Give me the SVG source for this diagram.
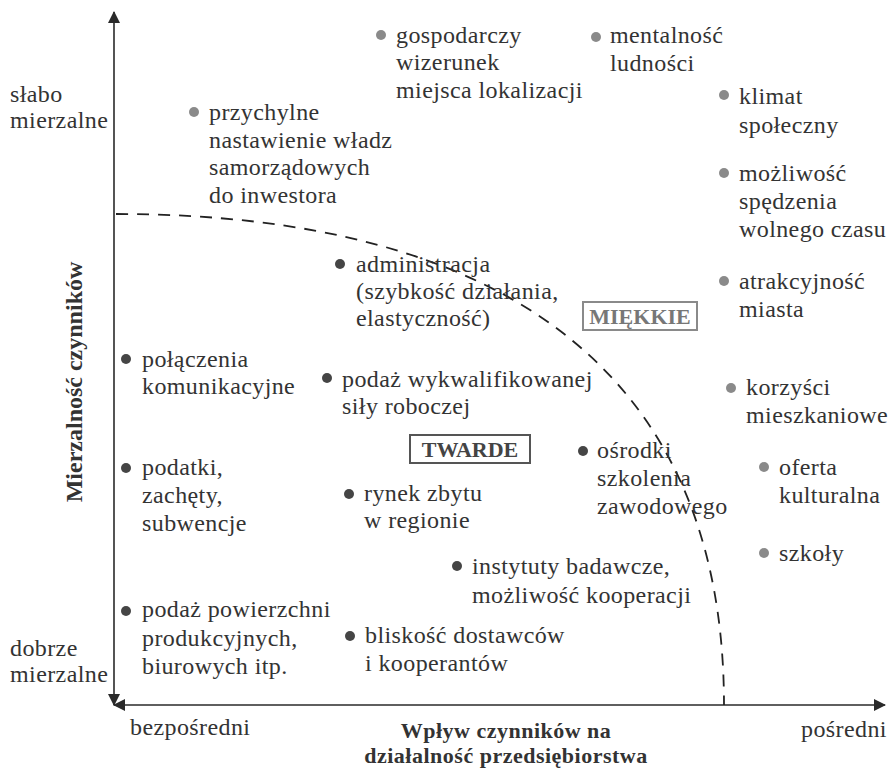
<svg xmlns="http://www.w3.org/2000/svg" width="895" height="768" viewBox="0 0 895 768">
<style>
text{font-family:"Liberation Serif","Times New Roman",serif;font-size:24px;letter-spacing:0.4px;fill:#333}
.t{font-weight:bold;letter-spacing:0}
.ttl{font-weight:bold;font-size:22px;letter-spacing:0.5px}
.dk{fill:#454545}
.gr{fill:#8a8a8a}
.ax{stroke:#2a2a2a;stroke-width:1.6;fill:none}
.dash{stroke:#222;stroke-width:1.8;fill:none;stroke-dasharray:12 9}
</style>
<defs>
<marker id="ah" viewBox="0 0 12 12" refX="11" refY="6" markerWidth="12" markerHeight="12" markerUnits="userSpaceOnUse" orient="auto">
<path d="M0,0 L12,6 L0,12 Z" fill="#2a2a2a"/>
</marker>
</defs>
<rect width="895" height="768" fill="#fff"/>
<g id="connectors">
<line class="ax" x1="114" y1="400" x2="114" y2="12" marker-end="url(#ah)"/>
<line class="ax" x1="114" y1="400" x2="114" y2="705" marker-end="url(#ah)"/>
<line class="ax" x1="500" y1="705" x2="885" y2="705" marker-end="url(#ah)"/>
<line class="ax" x1="500" y1="705" x2="114" y2="705" marker-end="url(#ah)"/>
<path class="dash" d="M116,214 C500,214 724,370 724,705"/>
</g>
<g id="axis-labels">
<text x="10" y="102">słabo</text>
<text x="10" y="128">mierzalne</text>
<text x="10" y="656">dobrze</text>
<text x="10" y="682">mierzalne</text>
<text x="130" y="735">bezpośredni</text>
<text x="801" y="737">pośredni</text>
<text class="ttl" x="506" y="738" text-anchor="middle">Wpływ czynników na</text>
<text class="ttl" x="506" y="763" text-anchor="middle">działalność przedsiębiorstwa</text>
<text class="t" transform="translate(82,382) rotate(-90)" text-anchor="middle">Mierzalność czynników</text>
</g>
<g id="miekkie">
<rect x="583" y="302" width="114" height="28" fill="none" stroke="#8a8a8a" stroke-width="2"/>
<text x="640" y="324" text-anchor="middle" style="fill:#777;font-size:22px" class="t">MIĘKKIE</text>
</g>
<g id="twarde">
<rect x="410" y="435" width="120" height="28" fill="none" stroke="#555" stroke-width="2"/>
<text x="470" y="457" text-anchor="middle" style="fill:#444;font-size:22px" class="t">TWARDE</text>
</g>
<g id="n-przychylne"><circle class="gr" cx="194" cy="112" r="5"/><text x="209" y="120">przychylne</text><text x="209" y="148">nastawienie władz</text><text x="209" y="175">samorządowych</text><text x="209" y="203">do inwestora</text></g>
<g id="n-gospodarczy"><circle class="gr" cx="381" cy="35" r="5"/><text x="396" y="43">gospodarczy</text><text x="396" y="70">wizerunek</text><text x="396" y="98">miejsca lokalizacji</text></g>
<g id="n-mentalnosc"><circle class="gr" cx="596" cy="37" r="5"/><text x="610" y="43">mentalność</text><text x="610" y="71">ludności</text></g>
<g id="n-klimat"><circle class="gr" cx="724" cy="95" r="5"/><text x="739" y="104">klimat</text><text x="739" y="133">społeczny</text></g>
<g id="n-mozliwosc"><circle class="gr" cx="724" cy="173" r="5"/><text x="739" y="181">możliwość</text><text x="739" y="209">spędzenia</text><text x="739" y="237">wolnego czasu</text></g>
<g id="n-atrakcyjnosc"><circle class="gr" cx="724" cy="281" r="5"/><text x="739" y="289">atrakcyjność</text><text x="739" y="317">miasta</text></g>
<g id="n-administracja"><circle class="dk" cx="340" cy="264" r="5"/><text x="356" y="272">administracja</text><text x="356" y="299">(szybkość działania,</text><text x="356" y="326">elastyczność)</text></g>
<g id="n-polaczenia"><circle class="dk" cx="126" cy="359" r="5"/><text x="142" y="367">połączenia</text><text x="142" y="394">komunikacyjne</text></g>
<g id="n-podaz-sily"><circle class="dk" cx="327" cy="378" r="5"/><text x="342" y="387">podaż wykwalifikowanej</text><text x="342" y="414">siły roboczej</text></g>
<g id="n-korzysci"><circle class="gr" cx="731" cy="388" r="5"/><text x="746" y="395">korzyści</text><text x="746" y="423">mieszkaniowe</text></g>
<g id="n-osrodki"><circle class="dk" cx="583" cy="451" r="5"/><text x="597" y="458">ośrodki</text><text x="597" y="486">szkolenia</text><text x="597" y="514">zawodowego</text></g>
<g id="n-oferta"><circle class="gr" cx="764" cy="467" r="5"/><text x="779" y="475">oferta</text><text x="779" y="503">kulturalna</text></g>
<g id="n-podatki"><circle class="dk" cx="126" cy="468" r="5"/><text x="142" y="475">podatki,</text><text x="142" y="503">zachęty,</text><text x="142" y="531">subwencje</text></g>
<g id="n-rynek"><circle class="dk" cx="349" cy="494" r="5"/><text x="364" y="501">rynek zbytu</text><text x="364" y="528">w regionie</text></g>
<g id="n-szkoly"><circle class="gr" cx="764" cy="553" r="5"/><text x="779" y="561">szkoły</text></g>
<g id="n-instytuty"><circle class="dk" cx="457" cy="566" r="5"/><text x="472" y="574">instytuty badawcze,</text><text x="472" y="603">możliwość kooperacji</text></g>
<g id="n-podaz-powierzchni"><circle class="dk" cx="126" cy="611" r="5"/><text x="142" y="617">podaż powierzchni</text><text x="142" y="646">produkcyjnych,</text><text x="142" y="674">biurowych itp.</text></g>
<g id="n-bliskosc"><circle class="dk" cx="350" cy="636" r="5"/><text x="365" y="643">bliskość dostawców</text><text x="365" y="671">i kooperantów</text></g>
</svg>
